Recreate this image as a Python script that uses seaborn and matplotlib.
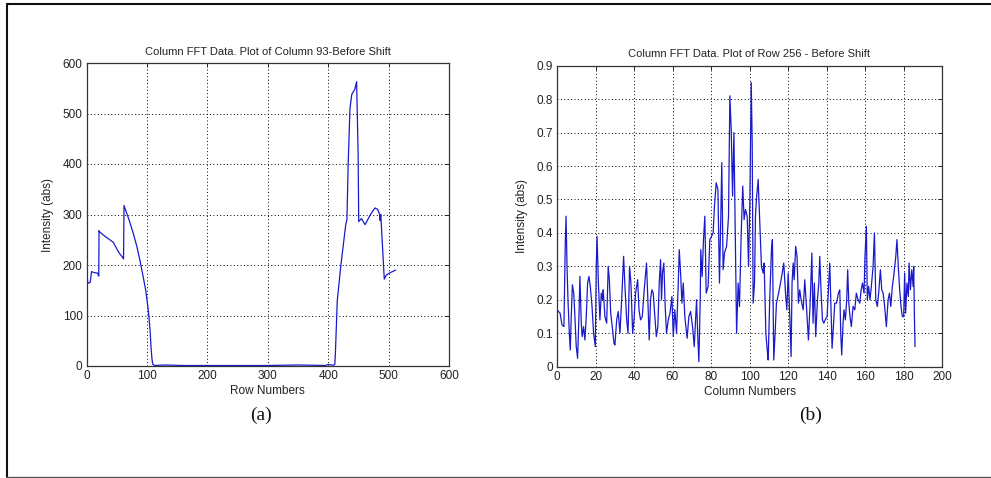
import numpy as np
import pandas as pd
import matplotlib
matplotlib.use("Agg")
import matplotlib.pyplot as plt
from matplotlib.lines import Line2D
import seaborn as sns

# ---------------- data ----------------
# (a) Column 93 - before shift
row_x = [0, 1.7, 3, 6, 8, 12, 18, 20, 20.4, 21, 30, 44, 53, 59.6, 61, 61.8, 64, 70, 77, 83, 88,
         93, 97.7, 101, 103, 105, 106.5, 108, 109.3, 112, 130, 160, 200, 300, 350, 395, 400, 405, 410,
         411, 412, 415, 421, 429, 431, 433, 436, 439, 444, 447, 449.5, 450.5, 455, 461, 470, 477.4,
         482, 485, 486, 487, 492.8, 496, 503, 511.6]
row_y = [190, 165, 164, 166, 187, 185, 184, 178, 268, 266, 257, 245, 225, 215, 212, 318, 310, 290, 263, 237, 210,
         180, 150, 120, 98, 70, 38, 15, 4, 1, 2, 1, 1, 1, 2, 1, 3, 2, 2,
         4, 30, 130, 200, 280, 290, 400, 510, 538, 548, 563, 420, 286, 292, 280, 300, 313,
         310, 300, 288, 300, 172, 180, 185, 190]

# (b) Row 256 - before shift
col_x = [0.0, 1.6, 2.6, 3.6, 4.3, 4.7, 5.2, 5.7, 6.4, 6.9, 7.4, 8.0, 8.7, 9.3, 10.0, 10.7, 11.4, 11.9,
         12.6, 13.1, 13.8, 14.5, 15.2, 15.9, 16.6, 17.3, 18.2, 19.0, 19.9, 20.4, 20.8, 21.5, 22.3, 23.0,
         23.7, 24.0, 24.9, 25.8, 26.6, 27.2, 27.9, 28.7, 29.6, 30.1, 31.0, 31.8, 32.7, 33.6, 34.6, 35.3,
         36.2, 36.9, 37.7, 38.4, 39.3, 40.0, 40.8, 41.9, 42.6, 43.4, 44.3, 45.3, 46.5, 47.2, 47.9, 48.6,
         49.3, 50.0, 50.7, 51.6, 52.4, 53.1, 53.8, 54.3, 54.8, 55.5, 56.2, 56.9, 57.8, 58.7, 59.7, 60.4,
         61.2, 62.1, 63.0, 63.5, 64.2, 64.9, 65.6, 66.4, 67.6, 68.5, 69.4, 70.4, 71.3, 72.5, 73.2, 73.7,
         74.4, 74.7, 75.4, 76.1, 76.8, 77.5, 78.5, 79.4, 80.3, 81.1, 81.8, 82.7, 83.6, 84.4, 85.1, 85.6,
         86.3, 87.0, 88.1, 89.1, 89.8, 90.5, 91.2, 91.9, 92.6, 93.3, 94.1, 94.8, 95.7, 96.5, 97.2, 97.9,
         98.8, 99.5, 100.2, 100.9, 101.4, 101.9, 102.6, 103.1, 103.6, 104.5, 105.4, 106.2, 107.1, 107.6,
         108.5, 109.2, 109.7, 110.5, 111.4, 111.9, 112.6, 113.3, 114.0, 115.1, 116.1, 117.0, 117.8, 118.7,
         119.4, 120.1, 120.8, 121.6, 122.1, 122.7, 123.2, 124.0, 124.7, 125.4, 126.1, 126.8, 127.9, 128.7,
         129.6, 130.6, 131.5, 132.4, 133.0, 133.7, 134.4, 135.3, 136.0, 136.5, 137.2, 137.9, 138.6, 139.3,
         140.3, 141.0, 141.7, 142.2, 142.9, 143.6, 144.3, 145.2, 146.2, 146.9, 147.4, 147.9, 148.6, 149.1,
         149.8, 150.5, 151.0, 151.6, 152.2, 152.9, 153.8, 154.7, 155.5, 156.4, 157.3, 158.0, 158.7, 159.5,
         160.0, 160.7, 161.2, 161.9, 162.6, 163.3, 164.2, 164.9, 165.6, 166.4, 167.1, 168.0, 168.7, 169.4,
         170.2, 171.1, 172.0, 172.7, 173.4, 174.2, 174.9, 176.0, 176.6, 177.3, 178.0, 178.7, 179.4, 180.1,
         180.6, 181.1, 181.8, 182.5, 182.9, 183.6, 184.3, 185.0, 185.3, 185.7, 186.0]
col_y = [0.17, 0.16, 0.125, 0.12, 0.37, 0.45, 0.30, 0.20, 0.10, 0.05, 0.15, 0.245, 0.22, 0.15, 0.06, 0.025,
         0.15, 0.27, 0.13, 0.09, 0.12, 0.08, 0.15, 0.25, 0.27, 0.24, 0.18, 0.10, 0.06, 0.30, 0.39, 0.25,
         0.14, 0.22, 0.20, 0.23, 0.15, 0.13, 0.30, 0.26, 0.16, 0.12, 0.07, 0.065, 0.14, 0.165, 0.10, 0.20,
         0.33, 0.24, 0.14, 0.10, 0.30, 0.25, 0.10, 0.14, 0.22, 0.26, 0.17, 0.14, 0.15, 0.23, 0.31, 0.20,
         0.08, 0.20, 0.23, 0.22, 0.16, 0.09, 0.12, 0.25, 0.32, 0.20, 0.28, 0.31, 0.18, 0.10, 0.14, 0.16,
         0.21, 0.09, 0.17, 0.10, 0.25, 0.35, 0.28, 0.19, 0.25, 0.15, 0.085, 0.15, 0.165, 0.12, 0.06, 0.20,
         0.08, 0.015, 0.20, 0.35, 0.27, 0.38, 0.45, 0.22, 0.24, 0.38, 0.39, 0.40, 0.48, 0.55, 0.53, 0.25,
         0.45, 0.61, 0.29, 0.34, 0.36, 0.45, 0.81, 0.71, 0.51, 0.70, 0.40, 0.10, 0.25, 0.18, 0.40, 0.54,
         0.44, 0.47, 0.45, 0.30, 0.50, 0.85, 0.67, 0.19, 0.25, 0.45, 0.50, 0.56, 0.42, 0.30, 0.28, 0.31,
         0.10, 0.05, 0.02, 0.20, 0.35, 0.38, 0.02, 0.10, 0.19, 0.22, 0.25, 0.28, 0.31, 0.22, 0.17, 0.28,
         0.17, 0.03, 0.25, 0.31, 0.26, 0.36, 0.33, 0.19, 0.23, 0.20, 0.17, 0.26, 0.18, 0.08, 0.19, 0.34,
         0.13, 0.25, 0.09, 0.20, 0.25, 0.33, 0.22, 0.14, 0.13, 0.14, 0.15, 0.23, 0.31, 0.20, 0.055, 0.12,
         0.19, 0.19, 0.22, 0.23, 0.10, 0.035, 0.13, 0.17, 0.14, 0.20, 0.29, 0.19, 0.15, 0.12, 0.18, 0.17,
         0.22, 0.20, 0.19, 0.23, 0.25, 0.22, 0.33, 0.42, 0.20, 0.24, 0.20, 0.24, 0.30, 0.40, 0.20, 0.18,
         0.22, 0.29, 0.23, 0.22, 0.18, 0.12, 0.20, 0.22, 0.18, 0.24, 0.27, 0.33, 0.38, 0.30, 0.23, 0.18,
         0.15, 0.15, 0.28, 0.16, 0.25, 0.21, 0.31, 0.23, 0.29, 0.24, 0.30, 0.14, 0.06]

titles = ["Column FFT Data. Plot of Column 93-Before Shift",
          "Column FFT Data. Plot of Row 256 - Before Shift"]
xlabels = ["Row Numbers", "Column Numbers"]
ylabel = "Intensity (abs)"
panel_labels = ["(a)", "(b)"]

# ---------------- style ----------------
sns.set_theme(style="white")
plt.rcParams["font.family"] = ["Liberation Sans", "DejaVu Sans"]

W, H = 991, 478
fig = plt.figure(figsize=(W / 100, H / 100), dpi=100)
fig.patch.set_facecolor("white")

def px_axes(l, t, r, b):
    return [l / W, 1 - b / H, (r - l) / W, (b - t) / H]

axA = fig.add_axes(px_axes(86.7, 63, 449, 366))
axB = fig.add_axes(px_axes(557, 65.7, 942, 366.7))

dfA = pd.DataFrame({"x": row_x, "y": row_y})
dfB = pd.DataFrame({"x": col_x, "y": col_y})
sns.lineplot(data=dfA, x="x", y="y", ax=axA, color="#1a1acc", linewidth=0.9, sort=False)
sns.lineplot(data=dfB, x="x", y="y", ax=axB, color="#1a1acc", linewidth=0.9, sort=False)

axA.set_xlim(0, 600); axA.set_ylim(0, 600)
axA.set_xticks(np.arange(0, 601, 100)); axA.set_yticks(np.arange(0, 601, 100))
axB.set_xlim(0, 200); axB.set_ylim(0, 0.9)
axB.set_xticks(np.arange(0, 201, 20)); axB.set_yticks(np.round(np.arange(0, 0.91, 0.1), 1))
axB.set_yticklabels(["0"] + [f"{v:.1f}" for v in np.arange(0.1, 0.91, 0.1)])

for ax, t, xl in zip([axA, axB], titles, xlabels):
    ax.set_title(t, fontsize=8, color="#222222", pad=6)
    ax.set_xlabel(xl, fontsize=8.5, color="#222222", labelpad=2)
    ax.set_ylabel(ylabel, fontsize=8.5, color="#222222", labelpad=6)
    ax.grid(True, linestyle=(0, (1, 2.5)), color="black", linewidth=0.7)
    ax.tick_params(direction="in", length=3, width=0.7, top=True, right=True,
                   labelsize=8.5, labelcolor="#222222", pad=3, color="#222222")
    for s in ax.spines.values():
        s.set_visible(True)
        s.set_color("#333333")
        s.set_linewidth(0.9)
    ax.set_facecolor("white")

fig.text(261 / W, 1 - 415 / H, panel_labels[0], ha="center", va="center",
         fontsize=14, family=["Liberation Serif", "DejaVu Serif"], color="#111111")
fig.text(811 / W, 1 - 415 / H, panel_labels[1], ha="center", va="center",
         fontsize=14, family=["Liberation Serif", "DejaVu Serif"], color="#111111")

# outer frame
fig.add_artist(Line2D([7 / W, 7 / W], [1 - 4 / H, 1 - 477 / H], color="#111111", lw=1.5))
fig.add_artist(Line2D([7 / W, 1.0], [1 - 4 / H, 1 - 4 / H], color="#111111", lw=1.5))
fig.add_artist(Line2D([7 / W, 1.0], [1 - 477 / H, 1 - 477 / H], color="#555555", lw=1.0))

fig.savefig("out.png", dpi=100)
